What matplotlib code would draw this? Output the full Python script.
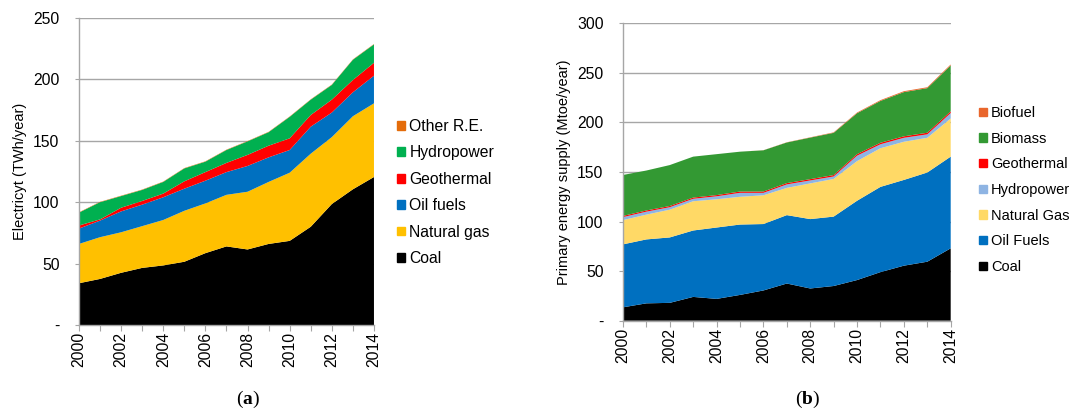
import matplotlib
matplotlib.use("Agg")
import matplotlib.pyplot as plt
from matplotlib.patches import Patch

plt.rcParams['font.family'] = ['Liberation Sans', 'DejaVu Sans']
plt.rcParams['mathtext.fontset'] = 'custom'
plt.rcParams['mathtext.rm'] = 'Liberation Serif'
plt.rcParams['mathtext.bf'] = 'Liberation Serif:bold'

years = list(range(2000, 2015))
year_labels = [str(y) if y % 2 == 0 else '' for y in years]

# (a) electricity generation, TWh/year
elec_coal = [34, 37.5, 42.5, 46.5, 48.5, 51.5, 58.5, 64, 61.5, 66, 68.5, 80, 98.5, 110.5, 120.5]
elec_gas = [32, 34, 33, 34, 37, 41.5, 40.5, 42, 47, 50.5, 55.5, 59.5, 54.5, 59.5, 60]
elec_oil = [12.5, 13.5, 17, 17.5, 18.5, 18, 18.5, 18.5, 21, 20, 18.5, 22, 20, 19.5, 22.5]
elec_geo = [2.5, 1, 3, 3, 3, 6, 7, 7.5, 9, 9.5, 9.5, 9.5, 10.5, 10, 10.5]
elec_hydro = [10.5, 14, 9.5, 9, 9.5, 10.5, 8.5, 10.5, 11, 11, 17.5, 12.5, 12, 16.5, 15]
elec_other = [0.3] * 15
elec_names = ['Coal', 'Natural gas', 'Oil fuels', 'Geothermal', 'Hydropower', 'Other R.E.']
elec_colors = ['#000000', '#FFC000', '#0070C0', '#FF0000', '#00B050', '#E46C0A']

# (b) primary energy supply, Mtoe/year
pes_coal = [13.5, 17.5, 18, 24, 22, 26, 30.5, 37.5, 32.5, 35, 41, 49, 55.5, 59.5, 73]
pes_oil = [63.5, 64.5, 66, 67, 72, 71, 67, 69, 70, 70, 80, 86, 86.5, 90, 92.5]
pes_gas = [24.5, 25, 28, 29.5, 28.5, 28, 29, 27.5, 36, 38, 40, 39, 38.5, 35, 38.5]
pes_hydro = [3, 3, 2.5, 2.5, 3, 4, 2.5, 3.5, 3, 2.5, 5.5, 4, 4, 3.5, 5.5]
pes_geo = [1.2, 1.2, 1.2, 1.2, 1.2, 1.3, 1.3, 1.3, 1.3, 1.4, 1.5, 1.5, 1.5, 1.6, 1.7]
pes_biomass = [41.3, 40.3, 41.3, 41.3, 41.3, 40.2, 41.6, 41, 41.9, 42.6, 41.3, 42.2, 44.6, 45, 46.3]
pes_biofuel = [0, 0, 0, 0, 0, 0, 0.1, 0.2, 0.3, 0.5, 0.7, 0.8, 0.9, 0.9, 1.0]
pes_names = ['Coal', 'Oil Fuels', 'Natural Gas', 'Hydropower', 'Geothermal', 'Biomass', 'Biofuel']
pes_colors = ['#000000', '#0070C0', '#FFD966', '#8EB4E3', '#FF0000', '#339933', '#E9662C']

GRID = '#A6A6A6'
TICK_FS = 11.3
LABEL_FS = 10.5

fig = plt.figure(figsize=(10.70, 4.09), dpi=100)
ax1 = fig.add_axes([0.0738, 0.2054, 0.2757, 0.7506])
ax2 = fig.add_axes([0.5822, 0.2159, 0.3063, 0.7271])


def style_axis(ax, ymax, ystep, ylabel):
    ax.set_xlim(2000, 2014)
    ax.set_ylim(0, ymax)
    ticks = list(range(0, ymax + 1, ystep))
    ax.set_yticks(ticks)
    ax.set_yticklabels(['-'] + [str(t) for t in ticks[1:]])
    ax.set_xticks(years)
    ax.set_xticklabels(year_labels, rotation=90)
    ax.grid(axis='y', color=GRID, linewidth=1)
    ax.set_axisbelow(True)
    for s in ['top', 'right']:
        ax.spines[s].set_visible(False)
    for s in ['left', 'bottom']:
        ax.spines[s].set_color(GRID)
        ax.spines[s].set_linewidth(1)
    ax.tick_params(axis='x', length=4, color=GRID, labelsize=TICK_FS, pad=1)
    ax.tick_params(axis='y', length=3, color=GRID, labelsize=TICK_FS, pad=11)
    ax.set_ylabel(ylabel, fontsize=LABEL_FS, labelpad=4)


ax1.stackplot(years, elec_coal, elec_gas, elec_oil, elec_geo, elec_hydro, elec_other,
              colors=elec_colors, linewidth=0)
style_axis(ax1, 250, 50, 'Electricyt (TWh/year)')

ax2.stackplot(years, pes_coal, pes_oil, pes_gas, pes_hydro, pes_geo, pes_biomass, pes_biofuel,
              colors=pes_colors, linewidth=0)
style_axis(ax2, 300, 50, 'Primary energy supply (Mtoe/year)')

h1 = [Patch(color=c, label=n) for n, c in zip(elec_names, elec_colors)][::-1]
fig.legend(handles=h1, loc='upper left', bbox_to_anchor=(0.365, 0.725), frameon=False,
           fontsize=11.3, handlelength=0.5, handleheight=0.5, handletextpad=0.3,
           labelspacing=0.73, borderaxespad=0)

h2 = [Patch(color=c, label=n) for n, c in zip(pes_names, pes_colors)][::-1]
fig.legend(handles=h2, loc='upper left', bbox_to_anchor=(0.9095, 0.755), frameon=False,
           fontsize=10.5, handlelength=0.52, handleheight=0.52, handletextpad=0.3,
           labelspacing=0.80, borderaxespad=0)

fig.text(0.232, 0.012, r'($\mathbf{a}$)', fontsize=14, family='Liberation Serif', ha='center')
fig.text(0.755, 0.012, r'($\mathbf{b}$)', fontsize=14, family='Liberation Serif', ha='center')

fig.savefig('out.png', dpi=100)
